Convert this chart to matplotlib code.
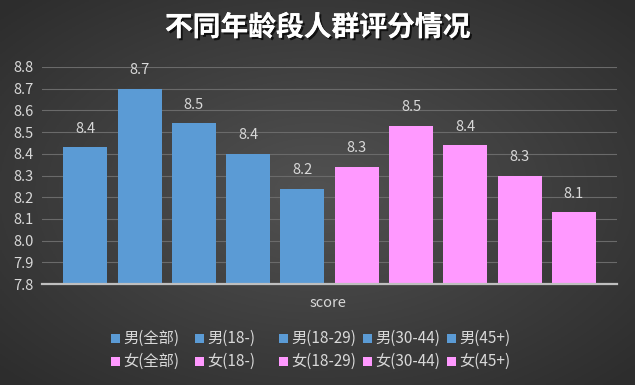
import numpy as np
import matplotlib
matplotlib.use("Agg")
import matplotlib.pyplot as plt
import matplotlib.patheffects as pe
from matplotlib.patches import Rectangle

plt.rcParams['font.family'] = ['Noto Sans CJK SC', 'DejaVu Sans']

# ---- data ----
series = ["男(全部)", "男(18-)", "男(18-29)", "男(30-44)", "男(45+)",
          "女(全部)", "女(18-)", "女(18-29)", "女(30-44)", "女(45+)"]
scores = [8.43, 8.70, 8.54, 8.40, 8.24, 8.34, 8.53, 8.44, 8.30, 8.13]
labels = ["8.4", "8.7", "8.5", "8.4", "8.2", "8.3", "8.5", "8.4", "8.3", "8.1"]
yticks = [7.8, 7.9, 8.0, 8.1, 8.2, 8.3, 8.4, 8.5, 8.6, 8.7, 8.8]
category = "score"

BLUE, PINK = "#5B9BD5", "#FF99FF"
colors = [BLUE] * 5 + [PINK] * 5
TXT = "#D9D9D9"
W, H = 635, 385

fig = plt.figure(figsize=(W / 100, H / 100), dpi=100)

# radial gradient background
bg = fig.add_axes([0, 0, 1, 1], zorder=-10)
gx, gy = np.meshgrid(np.linspace(-1, 1, 300), np.linspace(-1, 1, 200))
r = np.clip(np.sqrt(gx ** 2 + gy ** 2) / 1.35, 0, 1)
shade = 0.32 - 0.14 * r
bg.imshow(np.dstack([shade] * 3), aspect="auto", extent=[0, 1, 0, 1])
bg.axis("off")

ax = fig.add_axes([0.066, 0.262, 0.906, 0.564])
ax.patch.set_alpha(0)
x = np.arange(len(series))
bars = ax.bar(x, scores, width=0.81, color=colors, zorder=3)
ax.set_ylim(7.8, 8.8)
ax.set_xlim(-0.80, 9.80)
ax.set_yticks(yticks)
ax.set_yticklabels([f"{t:.1f}" for t in yticks], fontsize=10.5, color=TXT)
ax.set_xticks([])
ax.tick_params(axis="y", length=0, pad=6)
ax.grid(axis="y", color="#6A6A6A", lw=0.8, zorder=0)
for s in ["top", "right", "left"]:
    ax.spines[s].set_visible(False)
ax.spines["bottom"].set_color("#BFBFBF")
ax.spines["bottom"].set_linewidth(1.6)
ax.spines["bottom"].set_zorder(4)

# value labels above each bar
for b, lab in zip(bars, labels):
    ax.text(b.get_x() + b.get_width() / 2, b.get_height() + 0.085, lab,
            ha="center", va="center", fontsize=10.5, color=TXT)

fig.text(0.517, 0.213, category, ha="center", va="center", fontsize=10.5, color=TXT)

fig.text(0.5, 0.928, "不同年龄段人群评分情况", ha="center", va="center",
         fontsize=20, fontweight="bold", color="white",
         path_effects=[pe.withSimplePatchShadow(offset=(1.5, -1.5), shadow_rgbFace="black", alpha=0.7),
                       pe.Normal()])

# legend: 2 rows x 5 equal-width columns (men on top, women below)
for i, name in enumerate(series):
    col, row = i % 5, i // 5
    lx = (115 + 84 * col) / W
    ly = 1 - (338 + 23 * row) / H
    fig.add_artist(Rectangle((lx - 4.5 / W, ly - 4.5 / H), 9 / W, 9 / H,
                             transform=fig.transFigure, facecolor=colors[i], edgecolor="none"))
    fig.text(lx + 8 / W, ly, name, ha="left", va="center", fontsize=11, color=TXT)

fig.savefig("out.png", dpi=100)
